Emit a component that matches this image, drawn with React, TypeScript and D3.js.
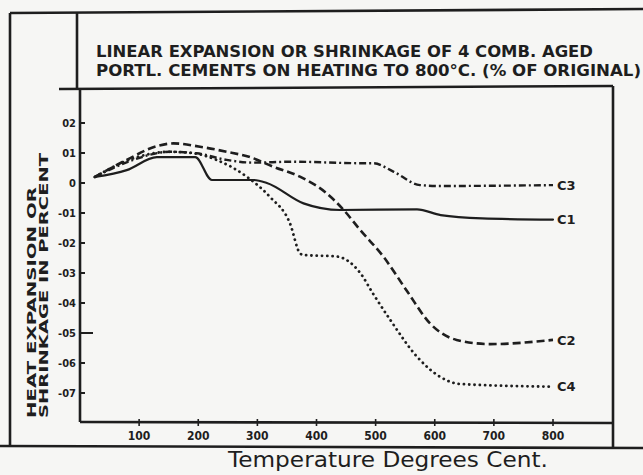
import React from "react";
import * as d3 from "d3";

const width = 643;
const height = 475;

// temperature (°C) and change (%) for each cement
const c1Temp = [25, 79, 130, 195, 223, 293, 316, 378, 440, 570, 610, 680, 800];
const c1Val = [0.02, 0.043, 0.086, 0.086, 0.01, 0.01, 0, -0.068, -0.09, -0.088, -0.107, -0.118, -0.122];

const c2Temp = [25, 79, 130, 158, 203, 248, 288, 327, 372, 417, 446, 474, 513, 553, 592, 637, 694, 800];
const c2Val = [0.02, 0.077, 0.123, 0.132, 0.121, 0.104, 0.086, 0.054, 0.021, -0.034, -0.09, -0.157, -0.245, -0.36, -0.468, -0.523, -0.537, -0.523];

const c3Temp = [25, 90, 152, 197, 248, 293, 361, 474, 496, 530, 575, 609, 800];
const c3Val = [0.02, 0.077, 0.104, 0.099, 0.077, 0.068, 0.071, 0.066, 0.066, 0.038, -0.007, -0.01, -0.007];

const c4Temp = [25, 90, 152, 192, 231, 282, 321, 355, 372, 378, 434, 474, 496, 525, 570, 609, 643, 800];
const c4Val = [0.02, 0.082, 0.104, 0.099, 0.077, 0.021, -0.046, -0.134, -0.234, -0.24, -0.245, -0.3, -0.37, -0.457, -0.579, -0.646, -0.67, -0.679];

const seriesNames = ["C1", "C2", "C3", "C4"];

const xTicks = [100, 200, 300, 400, 500, 600, 700, 800];
const yTicks = [0.2, 0.1, 0, -0.1, -0.2, -0.3, -0.4, -0.5, -0.6, -0.7];
const yTickLabels = ["02", "01", "0", "-01", "-02", "-03", "-04", "-05", "-06", "-07"];
const yTickLong = [false, false, false, false, false, false, false, true, false, false];

const titleLines = [
  "LINEAR EXPANSION OR SHRINKAGE OF 4 COMB. AGED",
  "PORTL. CEMENTS ON HEATING TO 800°C. (% OF ORIGINAL)",
];
const yLabelLines = ["HEAT EXPANSION OR", "SHRINKAGE IN PERCENT"];
const xLabel = "Temperature Degrees Cent.";

const ink = "#1e1e1e";

const styles = [
  { width: 2.2, dash: null, cap: "round" }, // C1 solid
  { width: 2.6, dash: "8 4", cap: "butt" }, // C2 dashed
  { width: 2.4, dash: "7 3 2 3", cap: "butt" }, // C3 dash-dot
  { width: 2.8, dash: "0.1 5.2", cap: "round" }, // C4 dotted
];

const x = d3.scaleLinear().domain([0, 800]).range([80, 553]);
const y = d3.scaleLinear().domain([0.2, -0.7]).range([123, 393]);

const line = d3
  .line<[number, number]>()
  .x((d) => x(d[0]))
  .y((d) => y(d[1]))
  .curve(d3.curveMonotoneX);

const App = () => {
  const series = [
    d3.zip(c1Temp, c1Val),
    d3.zip(c2Temp, c2Val),
    d3.zip(c3Temp, c3Val),
    d3.zip(c4Temp, c4Val),
  ] as [number, number][][];

  return (
    <svg
      width={width}
      height={height}
      style={{ position: "absolute", left: 0, top: 0, background: "#f6f6f4" }}
    >
      {/* frame */}
      <g stroke={ink} strokeWidth={2.6} fill="none">
        <line x1={10} y1={13} x2={643} y2={9} />
        <line x1={10} y1={13} x2={10} y2={445} />
        <line x1={0} y1={446} x2={643} y2={448} />
        <line x1={77} y1={13} x2={77} y2={89} />
        <line x1={59} y1={89} x2={613} y2={86} />
        <line x1={613} y1={86} x2={613} y2={447} />
        <line x1={80} y1={89} x2={80} y2={422} />
        <line x1={80} y1={422} x2={613} y2={423} />
      </g>

      {/* title */}
      {titleLines.map((t, i) => (
        <text
          key={"t" + i}
          x={96}
          y={57 + i * 19}
          fontFamily="DejaVu Sans Condensed"
          fontWeight="bold"
          fontSize={16}
          fill={ink}
          textLength={i === 0 ? 497 : 545}
          lengthAdjust="spacingAndGlyphs"
        >
          {t}
        </text>
      ))}

      {/* y axis ticks */}
      {yTicks.map((v, i) => (
        <line
          key={"yl" + i}
          x1={80}
          x2={yTickLong[i] ? 93 : 85}
          y1={y(v)}
          y2={y(v)}
          stroke={ink}
          strokeWidth={2}
        />
      ))}
      {yTicks.map((v, i) => (
        <text
          key={"yt" + i}
          x={76}
          y={y(v)}
          dy="0.35em"
          textAnchor="end"
          fontFamily="DejaVu Sans Condensed"
          fontWeight="bold"
          fontSize={11}
          fill={ink}
        >
          {yTickLabels[i]}
        </text>
      ))}

      {/* x axis ticks */}
      {xTicks.map((t) => (
        <g key={"x" + t}>
          <line x1={x(t)} x2={x(t)} y1={419} y2={426} stroke={ink} strokeWidth={1.6} />
          <text
            x={x(t)}
            y={436}
            dy="0.35em"
            textAnchor="middle"
            fontFamily="DejaVu Sans Condensed"
            fontWeight="bold"
            fontSize={12}
            fill={ink}
          >
            {t}
          </text>
        </g>
      ))}

      {/* y label */}
      {yLabelLines.map((t, i) => (
        <text
          key={"yla" + i}
          transform={`translate(${36 + i * 12},418) rotate(-90)`}
          fontFamily="DejaVu Sans"
          fontWeight="bold"
          fontSize={12.5}
          fill={ink}
          textLength={i === 0 ? 231 : 265}
          lengthAdjust="spacingAndGlyphs"
        >
          {t}
        </text>
      ))}

      {/* x label */}
      <text
        x={228}
        y={467}
        fontFamily="DejaVu Sans"
        fontSize={21}
        fill={ink}
        textLength={320}
        lengthAdjust="spacingAndGlyphs"
      >
        {xLabel}
      </text>

      {/* curves */}
      {series.map((s, i) => (
        <g key={seriesNames[i]}>
          <path
            d={line(s) ?? undefined}
            fill="none"
            stroke={ink}
            strokeWidth={styles[i].width}
            strokeDasharray={styles[i].dash ?? undefined}
            strokeLinecap={styles[i].cap as any}
            strokeLinejoin="round"
          />
          <text
            x={x(800) + 4}
            y={y(s[s.length - 1][1])}
            dy="0.36em"
            fontFamily="DejaVu Sans"
            fontWeight="bold"
            fontSize={13}
            fill={ink}
          >
            {seriesNames[i]}
          </text>
        </g>
      ))}
    </svg>
  );
};

export default App;
